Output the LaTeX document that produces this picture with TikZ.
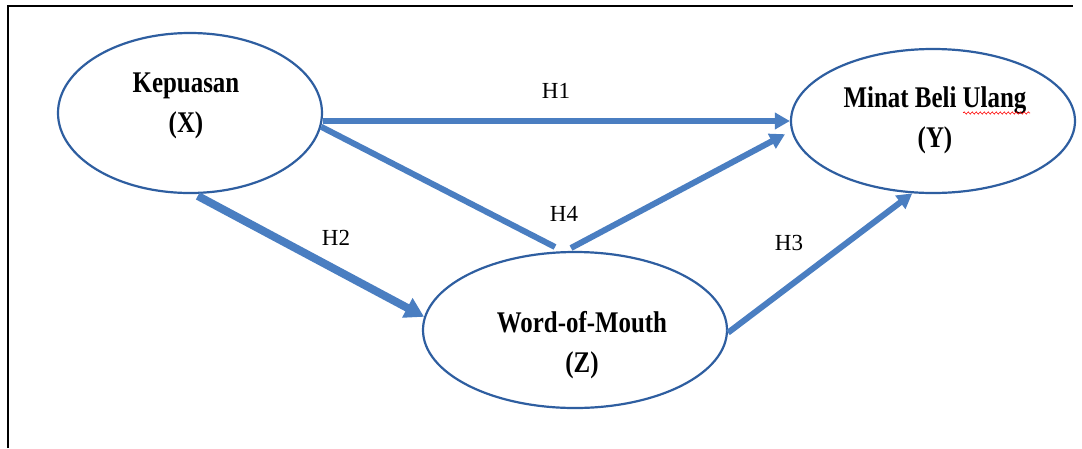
\documentclass[tikz,border=0pt]{standalone}
\usepackage{fontspec}
\setmainfont[FakeStretch=0.83]{Liberation Serif}
\newfontfamily\hfont{Liberation Serif}
\usetikzlibrary{arrows.meta,shapes.geometric,decorations.pathmorphing}
\definecolor{arrowblue}{RGB}{74,126,193}
\definecolor{rimblue}{RGB}{46,94,160}
\tikzset{
  var/.style={ellipse,draw=rimblue,line width=2.2pt,inner sep=0pt,fill=white},
  vtext/.style={align=center,font=\fontsize{30}{40}\selectfont\bfseries,inner sep=0pt},
  hlab/.style={font=\hfont\fontsize{23}{27}\selectfont,inner sep=0pt},
  conn/.style={draw=arrowblue,line width=6pt},
  arr/.style={conn,-{Triangle[width=16pt,length=15pt]}},
  bigarr/.style={draw=arrowblue,line width=8pt,-{Triangle[width=21pt,length=19pt]}}
}
\begin{document}
\begin{tikzpicture}[x=1pt,y=-1pt]
\useasboundingbox (0,0) rectangle (1082,448);
% frame
\coordinate (fb) at (8,448);
\coordinate (ft) at (8,6);
\coordinate (fr) at (1073,6);
\draw[line width=1.8pt] (fb) -- (ft) -- (fr);
% variables
\node[var,minimum width=264pt,minimum height=160pt] (X) at (190,113) {};
\node[var,minimum width=284pt,minimum height=144pt] (Y) at (933,121) {};
\node[var,minimum width=304pt,minimum height=156pt] (Z) at (575,330) {};
\node[vtext] (Xt) at (186,106) {Kepuasan\\(X)};
\node[vtext] (Yt) at (935,120) {Minat Beli Ulang\\(Y)};
\node[vtext] (Zt) at (582,345) {Word-of-Mouth\\(Z)};
% spell-check squiggle under "Ulang"
\coordinate (sq1) at (963,113);
\coordinate (sq2) at (1030,113);
\draw[red,line width=0.6pt,decorate,decoration={snake,amplitude=1.1pt,segment length=4pt}] (sq1) -- (sq2);
% junction points of H4
\coordinate (J1) at (555,247);
\coordinate (J2) at (571,248);
% connectors
\draw[arr] (Y.west -| X.east) -- (Y.west);
\draw[conn] (X.-6.5) -- (J1);
\draw[arr,shorten >=7pt] (J2) -- (Y.184.6);
\draw[bigarr,shorten <=4pt] (X.-87) -- (Z.175.5);
\draw[arr] (Z.-1) -- (Y.254.6);
% labels
\node[hlab] (H1) at (556,91) {H1};
\node[hlab] (H2) at (336,238) {H2};
\node[hlab] (H3) at (789,243) {H3};
\node[hlab] (H4) at (564,214) {H4};
\end{tikzpicture}
\end{document}
